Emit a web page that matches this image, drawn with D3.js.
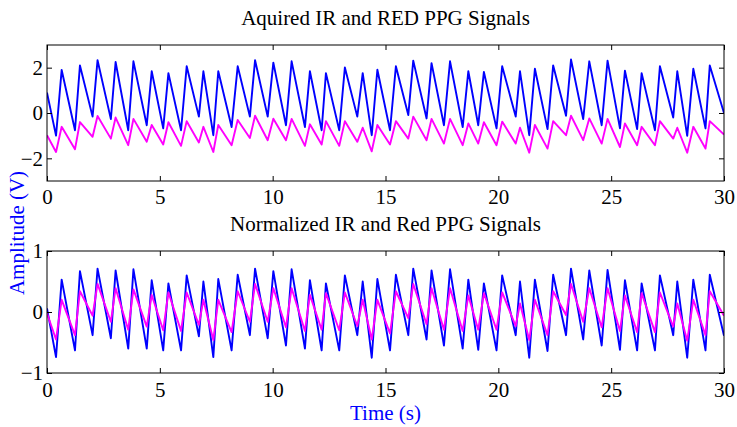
<!DOCTYPE html>
<html>
<head>
<meta charset="utf-8">
<script src="https://cdn.jsdelivr.net/npm/d3@7"></script>
<style>
  html, body { margin: 0; padding: 0; background: #fff; }
  svg { display: block; }
  text { font-family: "Liberation Serif", "Times New Roman", serif; }
</style>
</head>
<body>
<svg id="chart" width="737" height="427"></svg>
<script>
// ---------------- DATA ----------------
const titles = ["Aquired IR and RED PPG Signals", "Normalized IR and Red PPG Signals"];
const xLabel = "Time (s)";
const yLabel = "Amplitude (V)";
const xTicks = [0, 5, 10, 15, 20, 25, 30];
const yTicksTop = [-2, 0, 2];
const yTicksBottom = [-1, 0, 1];

// beat landmark times (s): foot (trough) and systolic peak of each pulse
const troughTimes = [0.40, 1.24, 2.02, 2.83, 3.60, 4.42, 5.15, 5.94, 6.73, 7.37, 8.18, 8.99, 9.78,
  10.59, 11.43, 12.17, 12.95, 13.75, 14.39, 15.20, 16.01, 16.82, 17.59, 18.42, 19.11, 19.92,
  20.77, 21.37, 22.18, 23.00, 23.76, 24.58, 25.39, 26.15, 26.94, 27.75, 28.37, 29.18];
const peakTimes = [0.65, 1.46, 2.24, 3.04, 3.83, 4.64, 5.38, 6.19, 6.93, 7.59, 8.45, 9.22, 10.03,
  10.84, 11.65, 12.36, 13.20, 13.99, 14.64, 15.46, 16.23, 17.04, 17.86, 18.67, 19.36,
  20.17, 20.96, 21.62, 22.43, 23.22, 24.03, 24.84, 25.61, 26.35, 27.16, 27.93, 28.64, 29.37];

// Acquired IR (blue)
const irStartEnd = [0.9, 0.0];
const irTroughs = [-1.0, -0.76, -0.16, -0.27, -0.76, -0.54, -0.68, -0.76, -0.16, -0.98, -0.62, -0.16, -0.16,
  -0.54, -0.62, -0.76, -0.76, -0.16, -0.98, -0.76, -0.09, -0.24, -0.54, -0.62, -0.54, -0.68,
  -0.16, -0.98, -0.71, -0.12, -0.27, -0.54, -0.68, -0.71, -0.76, -0.20, -1.01, -0.68];
const irPeaks = [1.9, 2.1, 2.33, 2.25, 2.28, 1.84, 1.76, 2.06, 1.84, 1.84, 2.06, 2.33, 2.22,
  2.28, 1.84, 1.76, 2.01, 1.76, 1.91, 2.06, 2.31, 2.20, 2.28, 1.84, 1.81,
  2.06, 1.84, 1.95, 2.10, 2.36, 2.28, 2.31, 1.87, 1.76, 2.06, 1.84, 1.95, 2.10];

// Acquired RED (magenta)
const redStartEnd = [-0.98, -0.95];
const redTroughs = [-1.72, -1.60, -1.05, -1.13, -1.42, -1.27, -1.39, -1.45, -1.30, -1.72, -1.42, -1.10, -1.20,
  -1.20, -1.45, -1.39, -1.45, -1.27, -1.69, -1.39, -1.13, -1.20, -1.35, -1.42, -1.35, -1.42,
  -1.35, -1.75, -1.57, -0.98, -1.20, -1.35, -1.50, -1.42, -1.42, -1.13, -1.75, -1.57];
const redPeaks = [-0.61, -0.40, -0.13, -0.20, -0.26, -0.53, -0.41, -0.36, -0.61, -0.53, -0.31, -0.12, -0.25,
  -0.26, -0.50, -0.36, -0.36, -0.65, -0.53, -0.36, -0.16, -0.26, -0.26, -0.46, -0.41,
  -0.38, -0.65, -0.53, -0.36, -0.12, -0.24, -0.26, -0.46, -0.61, -0.36, -0.65, -0.61, -0.36];

// Normalized IR (blue)
const irNStartEnd = [0.06, -0.39];
const irNTroughs = [-0.74, -0.63, -0.38, -0.43, -0.60, -0.60, -0.63, -0.63, -0.40, -0.74, -0.63, -0.38, -0.43,
  -0.55, -0.60, -0.63, -0.63, -0.38, -0.75, -0.63, -0.38, -0.45, -0.55, -0.60, -0.62, -0.63,
  -0.38, -0.75, -0.64, -0.38, -0.45, -0.55, -0.62, -0.63, -0.63, -0.38, -0.75, -0.63];
const irNPeaks = [0.53, 0.67, 0.71, 0.68, 0.70, 0.52, 0.47, 0.60, 0.50, 0.54, 0.61, 0.71, 0.67,
  0.70, 0.52, 0.47, 0.60, 0.50, 0.54, 0.61, 0.71, 0.68, 0.70, 0.53, 0.47,
  0.60, 0.50, 0.53, 0.61, 0.71, 0.68, 0.69, 0.52, 0.47, 0.60, 0.50, 0.53, 0.61];

// Normalized RED (magenta)
const redNStartEnd = [-0.02, -0.06];
const redNTroughs = [-0.45, -0.38, -0.06, -0.16, -0.29, -0.24, -0.30, -0.31, -0.21, -0.46, -0.33, -0.16, -0.16,
  -0.25, -0.31, -0.29, -0.30, -0.23, -0.45, -0.35, -0.10, -0.20, -0.29, -0.31, -0.29, -0.29,
  -0.23, -0.46, -0.38, -0.05, -0.16, -0.25, -0.31, -0.33, -0.33, -0.24, -0.47, -0.38];
const redNPeaks = [0.20, 0.34, 0.46, 0.39, 0.37, 0.28, 0.32, 0.32, 0.20, 0.20, 0.34, 0.46, 0.39,
  0.39, 0.28, 0.31, 0.32, 0.20, 0.20, 0.34, 0.46, 0.39, 0.39, 0.27, 0.31,
  0.32, 0.14, 0.20, 0.34, 0.46, 0.39, 0.39, 0.27, 0.31, 0.32, 0.14, 0.20, 0.34];

// ---------------- BUILD ----------------
function buildSeries(startEnd, troughs, peaks) {
  const pts = [[0, startEnd[0]]];
  troughTimes.forEach((t, i) => {
    pts.push([t, troughs[i]]);
    pts.push([peakTimes[i], peaks[i]]);
  });
  pts.push([30, startEnd[1]]);
  return pts;
}

const svg = d3.select("#chart");
const BLUE = "#0000ff", MAGENTA = "#ff00ff";
const FONT = 21;

const left = 47, right = 724;
const panels = [
  { top: 45, bottom: 181, yDomain: [-3, 3], yTicks: yTicksTop, title: titles[0], titleY: 25, xPad: 8,
    series: [[buildSeries(irStartEnd, irTroughs, irPeaks), BLUE], [buildSeries(redStartEnd, redTroughs, redPeaks), MAGENTA]] },
  { top: 251, bottom: 373, yDomain: [-1, 1], yTicks: yTicksBottom, title: titles[1], titleY: 231, xPad: 9,
    series: [[buildSeries(irNStartEnd, irNTroughs, irNPeaks), BLUE], [buildSeries(redNStartEnd, redNTroughs, redNPeaks), MAGENTA]] }
];

const x = d3.scaleLinear().domain([0, 30]).range([left, right]);

panels.forEach(p => {
  const y = d3.scaleLinear().domain(p.yDomain).range([p.bottom, p.top]);
  const g = svg.append("g");

  const id = "clip" + p.top;
  svg.append("clipPath").attr("id", id).append("rect")
    .attr("x", left).attr("y", p.top).attr("width", right - left).attr("height", p.bottom - p.top);

  const line = d3.line().x(d => x(d[0])).y(d => y(d[1]));
  p.series.forEach(([pts, col]) => {
    g.append("path").datum(pts)
      .attr("clip-path", `url(#${id})`)
      .attr("fill", "none").attr("stroke", col).attr("stroke-width", 1.9)
      .attr("stroke-linejoin", "round")
      .attr("d", line);
  });

  const ax = (axis, tr) => {
    const a = g.append("g").attr("transform", tr).call(axis);
    a.select(".domain").remove();
    a.selectAll(".tick line").attr("stroke", "#000");
    a.selectAll("text").attr("font-size", FONT).attr("font-family", '"Liberation Serif", serif').attr("fill", "#000");
    return a;
  };
  ax(d3.axisBottom(x).tickValues(xTicks).tickSize(-5).tickPadding(p.xPad).tickFormat(d3.format("d")), `translate(0,${p.bottom})`);
  ax(d3.axisTop(x).tickValues(xTicks).tickSize(-5).tickFormat(""), `translate(0,${p.top})`);
  ax(d3.axisLeft(y).tickValues(p.yTicks).tickSize(-5).tickPadding(4).tickFormat(d3.format("d")), `translate(${left},0)`);
  ax(d3.axisRight(y).tickValues(p.yTicks).tickSize(-5).tickFormat(""), `translate(${right},0)`);

  g.append("rect").attr("x", left).attr("y", p.top)
    .attr("width", right - left).attr("height", p.bottom - p.top)
    .attr("fill", "none").attr("stroke", "#000").attr("stroke-width", 1);

  svg.append("text").attr("x", (left + right) / 2).attr("y", p.titleY)
    .attr("text-anchor", "middle").attr("font-size", FONT).attr("fill", "#000")
    .text(p.title);
});

svg.append("text").attr("x", (left + right) / 2).attr("y", 420)
  .attr("text-anchor", "middle").attr("font-size", FONT).attr("fill", BLUE)
  .text(xLabel);
svg.append("text").attr("transform", "translate(24,233) rotate(-90)")
  .attr("text-anchor", "middle").attr("font-size", FONT).attr("fill", BLUE)
  .text(yLabel);
</script>
</body>
</html>
